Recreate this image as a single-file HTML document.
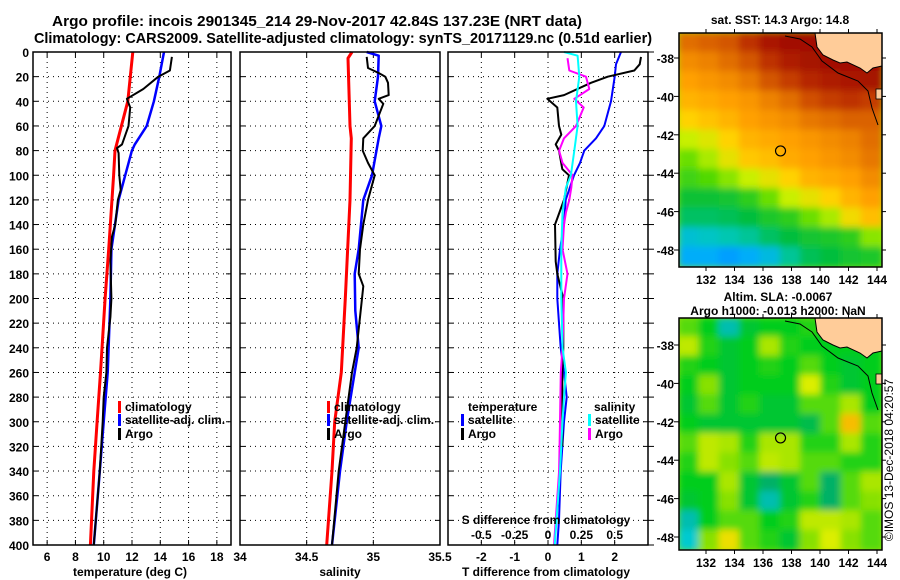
<!DOCTYPE html>
<html><head><meta charset="utf-8"><style>
html,body{margin:0;padding:0;background:#fff;}
svg{display:block;font-family:"Liberation Sans",sans-serif;font-weight:bold;}
</style></head><body>
<svg id="chart" width="900" height="580" viewBox="0 0 900 580">
<defs>
<filter id="blur1" x="0" y="0" width="1" height="1"><feGaussianBlur stdDeviation="3.5"/></filter>
<clipPath id="clipTop"><rect x="679" y="33" width="203" height="234"/></clipPath>
<clipPath id="clipBot"><rect x="679" y="318" width="203" height="232"/></clipPath>
</defs>
<text x="52" y="26" font-size="15" textLength="530" lengthAdjust="spacingAndGlyphs">Argo profile: incois 2901345_214 29-Nov-2017 42.84S 137.23E (NRT data)</text>
<text x="34" y="43" font-size="15" textLength="618" lengthAdjust="spacingAndGlyphs">Climatology: CARS2009. Satellite-adjusted climatology: synTS_20171129.nc (0.51d earlier)</text>
<g id="plots"></g>
<g id="maps"></g>
<text x="780" y="24" font-size="12" text-anchor="middle">sat. SST: 14.3 Argo: 14.8</text>
<text x="778" y="301" font-size="12" text-anchor="middle">Altim. SLA: -0.0067</text>
<text x="778" y="315" font-size="12" text-anchor="middle">Argo h1000: -0.013 h2000: NaN</text>
<text transform="translate(893,460) rotate(-90)" font-size="12" font-weight="normal" text-anchor="middle">©IMOS 13-Dec-2018 04:20:57</text>
</svg>
<script>
// ---------- data ----------
const pTicks=[0,20,40,60,80,100,120,140,160,180,200,220,240,260,280,300,320,340,360,380,400];
const tTicks=[6,8,10,12,14,16,18];
const sTicks=[34,34.5,35,35.5];
const dTicks=[-2,-1,0,1,2];
const sdTicks=[-0.5,-0.25,0,0.25,0.5];

const climTP=[0,40,80,100,160,200,260,300,340,400];
const climT=[12.06,11.7,10.8,10.7,10.35,10.1,9.77,9.53,9.3,9.06];
const satTP=[0,20,40,60,75,80,100,120,160,200,260,300,340,400];
const satT=[14.26,13.93,13.55,13.04,12.2,11.99,11.52,11.05,10.54,10.47,10.28,10.0,9.72,9.3];
const argoTP=[4,15,20,30,38,45,60,75,78,82,100,112,120,140,150,170,200,215,240,260,280,300,340,400];
const argoT=[14.82,14.68,13.86,12.8,11.64,11.87,11.75,11.29,10.94,11.05,11.1,11.2,11.0,10.82,10.58,10.47,10.54,10.47,10.23,10.19,10.0,9.93,9.72,9.3];

const climSP=[0,5,60,70,120,200,260,300,340,400];
const climS=[34.84,34.81,34.825,34.835,34.825,34.79,34.76,34.71,34.69,34.65];
const satSP=[0,3,20,40,60,70,100,120,160,180,210,240,260,300,340,400];
const satS=[34.95,35.04,35.035,35.01,35.06,35.04,34.99,34.925,34.89,34.86,34.865,34.89,34.86,34.8,34.75,34.69];
const argoSP=[4,13,17,20,25,35,38,42,60,70,80,90,100,120,140,160,180,190,200,240,260,300,340,400];
const argoS=[34.95,34.96,35.04,35.09,35.11,35.115,35.04,35.075,35.01,34.925,34.92,34.96,35.01,34.96,34.925,34.9,34.89,34.925,34.915,34.875,34.84,34.79,34.74,34.69];

const dSatTP=[0,10,20,40,60,70,80,90,100,120,140,160,180,200,240,260,280,300,340,380,400];
const dSatT=[2.19,2.04,2.0,1.89,1.69,1.44,1.09,0.96,0.78,0.53,0.48,0.36,0.28,0.28,0.38,0.48,0.56,0.48,0.38,0.33,0.28];
const dArgoTP=[4,10,15,20,25,35,38,45,60,67,75,80,95,100,120,135,140,170,180,200,210,240,260,300,320];
const dArgoT=[2.79,2.75,2.59,1.79,1.29,0.48,-0.02,0.28,0.33,0.4,0.23,0.33,0.43,0.63,0.48,0.28,0.21,0.23,0.28,0.46,0.46,0.46,0.43,0.43,0.43];
const dArgoSP=[5,15,20,30,38,45,60,70,80,90,100,110,120,130,140,160,180,200,240,260,300,340,380,400];
const dArgoS=[0.146,0.16,0.285,0.31,0.197,0.268,0.21,0.12,0.083,0.109,0.184,0.175,0.16,0.135,0.12,0.109,0.146,0.12,0.109,0.096,0.09,0.083,0.058,0.045];
const dSatSP=[0,3,20,40,60,80,100,110,130,160,200,240,260,280,300,340,400];
const dSatS=[0.12,0.222,0.235,0.21,0.222,0.197,0.172,0.134,0.109,0.1,0.1,0.109,0.134,0.12,0.109,0.09,0.05];

const mapLons=[132,134,136,138,140,142,144];
const sstLats=[-38,-40,-42,-44,-46,-48];
const sstGrid=[
[.80,.82,.84,.90,.95,.97,.97,.97,.97,.97],
[.74,.76,.80,.84,.90,.94,.96,.97,.97,.97],
[.70,.72,.74,.78,.84,.88,.92,.94,.95,.96],
[.66,.68,.70,.72,.76,.80,.85,.88,.90,.88],
[.60,.63,.66,.70,.72,.74,.78,.80,.82,.82],
[.52,.55,.60,.66,.68,.70,.72,.74,.76,.80],
[.46,.50,.56,.62,.64,.68,.70,.72,.74,.78],
[.42,.44,.48,.52,.56,.60,.66,.68,.70,.74],
[.36,.36,.37,.40,.46,.52,.56,.60,.66,.70],
[.32,.32,.33,.35,.38,.40,.46,.50,.58,.64],
[.22,.24,.26,.28,.32,.35,.37,.38,.40,.48],
[.16,.16,.14,.16,.20,.28,.33,.35,.37,.38]];
const slaGrid=[
[.45,.40,.25,.38,.40,.40,.42,.40,.40,.40],
[.52,.42,.38,.40,.50,.42,.40,.40,.40,.40],
[.42,.40,.38,.40,.42,.40,.45,.40,.38,.40],
[.40,.48,.38,.40,.40,.40,.55,.42,.38,.40],
[.38,.45,.38,.42,.38,.38,.45,.45,.50,.40],
[.40,.38,.38,.38,.38,.38,.35,.45,.62,.45],
[.45,.52,.50,.42,.50,.50,.42,.42,.50,.42],
[.42,.52,.48,.45,.52,.50,.45,.45,.42,.42],
[.40,.40,.50,.38,.32,.38,.45,.32,.45,.50],
[.38,.40,.48,.38,.25,.38,.42,.32,.45,.48],
[.25,.40,.45,.45,.40,.42,.52,.52,.50,.45],
[.22,.48,.58,.45,.42,.38,.48,.55,.48,.45]];
const argoLon=137.23, argoLat=-42.84;

// ---------- helpers ----------
const NS="http://www.w3.org/2000/svg";
const plots=document.getElementById('plots');
const maps=document.getElementById('maps');
function mk(tag,attrs,parent){const e=document.createElementNS(NS,tag);for(const k in attrs)e.setAttribute(k,attrs[k]);(parent||plots).appendChild(e);return e;}
const Y0=52,Y1=545;
const yP=p=>Y0+(p/400)*(Y1-Y0);
function lin(d0,d1,r0,r1){return v=>r0+(v-d0)/(d1-d0)*(r1-r0);}
const xT=lin(5,19,33,231);
const xS=lin(34,35.5,240,440);
const xD=lin(-3,3,448,648);
const xSD=v=>xD(v*4);

function panel(x0,x1,xs,ticks,name){
  const g=mk('g',{});
  
  
  for(const p of pTicks){ if(p===0||p===400)continue;
    const l=mk('line',{x1:x0,x2:x1,y1:yP(p),y2:yP(p),stroke:'#000','stroke-width':1,'stroke-dasharray':'1,4'},g);
    
    
    mk('line',{x1:x0,x2:x0+5,y1:yP(p),y2:yP(p),stroke:'#000'},g);
    mk('line',{x1:x1-5,x2:x1,y1:yP(p),y2:yP(p),stroke:'#000'},g);
  }
  for(const t of ticks){const x=xs(t); if(x<=x0+1||x>=x1-1)continue;
    const l=mk('line',{x1:x,x2:x,y1:Y0,y2:Y1,stroke:'#000','stroke-width':1,'stroke-dasharray':'1,4'},g);
    
    
    mk('line',{x1:x,x2:x,y1:Y0,y2:Y0+5,stroke:'#000'},g);
    mk('line',{x1:x,x2:x,y1:Y1-5,y2:Y1,stroke:'#000'},g);
  }
  return g;
}
function frame(x0,x1,name){
  const r=mk('rect',{x:x0,y:Y0,width:x1-x0,height:Y1-Y0,fill:'none',stroke:'#000','stroke-width':1.5});
  
  
}
function series(xs,ps,vals,color,w,name){
  const d=ps.map((p,i)=>(i?'L':'M')+xs(vals[i]).toFixed(1)+','+yP(p).toFixed(1)).join('');
  const e=mk('path',{d:d,fill:'none',stroke:color,'stroke-width':w,'stroke-linejoin':'round'});
  
  
}
function txt(x,y,s,size,anchor,name,color){
  const e=mk('text',{x:x,y:y,'font-size':size,'text-anchor':anchor||'start',fill:color||'#000'});
  e.textContent=s;
  
  
  return e;
}
function legend(x,y,color,label,name){
  const r=mk('rect',{x:x,y:y-10,width:3,height:12,fill:color});
  
  
  txt(x+7,y,label,12,'start',name);
}

// ---------- panels ----------
panel(33,231,xT,tTicks,'temperature-grid');
panel(240,440,xS,sTicks,'salinity-grid');
panel(448,648,xD,dTicks,'tdiff-grid');

for(const p of pTicks){txt(29,yP(p)+5,String(p),12,'end','y-tick-label');}

// panel 1
series(xT,climTP,climT,'#ff0000',3,'temp-climatology-line');
series(xT,satTP,satT,'#0000ff',2.5,'temp-satellite-line');
series(xT,argoTP,argoT,'#000',2,'temp-argo-line');
frame(33,231,'temperature-axes');
for(const t of tTicks)txt(xT(t),561,String(t),12,'middle','temp-x-tick-label');
txt(130,576,'temperature (deg C)',12,'middle','temp-x-axis-title');
legend(118,411,'#ff0000','climatology','legend-climatology');
legend(118,424,'#0000ff','satellite-adj. clim.','legend-satellite-adj');
legend(118,438,'#000','Argo','legend-argo');

// panel 2
series(xS,climSP,climS,'#ff0000',3,'sal-climatology-line');
series(xS,satSP,satS,'#0000ff',2.5,'sal-satellite-line');
series(xS,argoSP,argoS,'#000',2,'sal-argo-line');
frame(240,440,'salinity-axes');
for(const t of sTicks)txt(xS(t),561,String(t),12,'middle','sal-x-tick-label');
txt(340,576,'salinity',12,'middle','sal-x-axis-title');
legend(327,411,'#ff0000','climatology','legend-climatology-2');
legend(327,424,'#0000ff','satellite-adj. clim.','legend-satellite-adj-2');
legend(327,438,'#000','Argo','legend-argo-2');

// panel 3
series(xD,dSatTP,dSatT,'#0000ff',2,'tdiff-satellite-line');
series(xD,dArgoTP,dArgoT,'#000',2,'tdiff-argo-line');
series(xSD,dArgoSP,dArgoS,'#ff00ff',2,'sdiff-argo-line');
series(xSD,dSatSP,dSatS,'#00ffff',2,'sdiff-satellite-line');
frame(448,648,'tdiff-axes');
for(const p of pTicks){mk('line',{x1:648,x2:654,y1:yP(p),y2:yP(p),stroke:'#000'});}
for(const t of dTicks)txt(xD(t),561,String(t),12,'middle','tdiff-x-tick-label');
txt(546,576,'T difference from climatology',12,'middle','tdiff-x-axis-title');
txt(546,524,'S difference from climatology',12,'middle','sdiff-axis-title');
for(const t of sdTicks)txt(xSD(t),539,String(t),12,'middle','sdiff-tick-label');
txt(468,411,'temperature',12,'start','legend-temperature-header');
legend(461,424,'#0000ff','satellite','legend-t-satellite');
legend(461,438,'#000','Argo','legend-t-argo');
txt(594,411,'salinity',12,'start','legend-salinity-header');
legend(588,424,'#00ffff','satellite','legend-s-satellite');
legend(588,438,'#ff00ff','Argo','legend-s-argo');

// ---------- maps ----------
const mxL=lin(132,144,706,877);
function interp(stops,v){
  if(v<=stops[0][0])return 'rgb('+stops[0][1].join(',')+')';
  for(let i=1;i<stops.length;i++){if(v<=stops[i][0]){const a=stops[i-1],b=stops[i],f=(v-a[0])/(b[0]-a[0]);
    return 'rgb('+a[1].map((c,k)=>Math.round(c+(b[1][k]-c)*f)).join(',')+')';}}
  return 'rgb('+stops[stops.length-1][1].join(',')+')';
}
const sstStops=[[0.05,[0,60,255]],[0.15,[0,170,255]],[0.25,[0,200,190]],[0.35,[0,190,60]],[0.45,[90,220,0]],[0.52,[200,240,0]],[0.6,[255,210,0]],[0.7,[255,160,0]],[0.8,[225,110,0]],[0.9,[190,50,0]],[1.0,[150,0,0]]];
const slaStops=[[0.2,[0,210,230]],[0.3,[0,170,120]],[0.4,[0,205,30]],[0.5,[170,230,0]],[0.56,[230,240,0]],[0.63,[250,180,0]]];
function drawMap(top,h,grid,stops,clip,name,yLat){
  const g=mk('g',{'clip-path':'url(#'+clip+')'},maps);
  
  
  mk('rect',{x:679,y:top,width:203,height:h,fill:interp(stops,0.5)},g);
  const inner=mk('g',{filter:'url(#blur1)'},g);
  const rows=grid.length,cols=grid[0].length,cw=203/cols,ch=h/rows;
  grid.forEach((row,r)=>row.forEach((v,c)=>{
    const cell=mk('rect',{x:(679+c*cw-1).toFixed(1),y:(top+r*ch-1).toFixed(1),width:(cw+2).toFixed(1),height:(ch+2).toFixed(1),fill:interp(stops,v)},inner);
    
    
  }));
  const land=mk('path',{d:`M815,${top} L817,${top+14} L823,${top+22} L833,${top+27} L840,${top+30} L847,${top+29} L860,${top+35} L867,${top+40} L873,${top+35} L882,${top+33} L882,${top} Z`,fill:'#ffcc99',stroke:'#000','stroke-width':1},g);
  
  
  const coast=mk('path',{d:`M785,${top+3} L800,${top+6} L812,${top+14} L822,${top+28} L838,${top+40} L858,${top+48} L868,${top+58} L872,${top+75} L878,${top+92}`,fill:'none',stroke:'#000','stroke-width':1},g);
  
  
  mk('rect',{x:876,y:top+56,width:6,height:10,fill:'#ffcc99',stroke:'#000','stroke-width':0.8},g);
  const fr=mk('rect',{x:679,y:top,width:203,height:h,fill:'none',stroke:'#000','stroke-width':1.5},maps);
  
  
  for(const la of sstLats){const y=yLat(la);
    mk('line',{x1:679,x2:674,y1:y,y2:y,stroke:'#000'},maps);
    mk('line',{x1:882,x2:886,y1:y,y2:y,stroke:'#000'},maps);
    const t=mk('text',{x:674,y:y+5,'font-size':12,'text-anchor':'end'},maps);t.textContent=String(la);
    
    
  }
  for(const lo of mapLons){const x=mxL(lo);
    mk('line',{x1:x,x2:x,y1:top+h,y2:top+h+4,stroke:'#000'},maps);
    mk('line',{x1:x,x2:x,y1:top,y2:top-4,stroke:'#000'},maps);
    const t=mk('text',{x:x,y:top+h+17,'font-size':12,'text-anchor':'middle'},maps);t.textContent=String(lo);
    
    
  }
  const c=mk('circle',{cx:mxL(argoLon),cy:yLat(argoLat),r:5,fill:'none',stroke:'#000','stroke-width':1.2},maps);
  
  
}
drawMap(33,234,sstGrid,sstStops,'clipTop','sst-map',lin(-38,-48,58,250));
drawMap(318,232,slaGrid,slaStops,'clipBot','sla-map',lin(-38,-48,345,537));
</script>
</body></html>
